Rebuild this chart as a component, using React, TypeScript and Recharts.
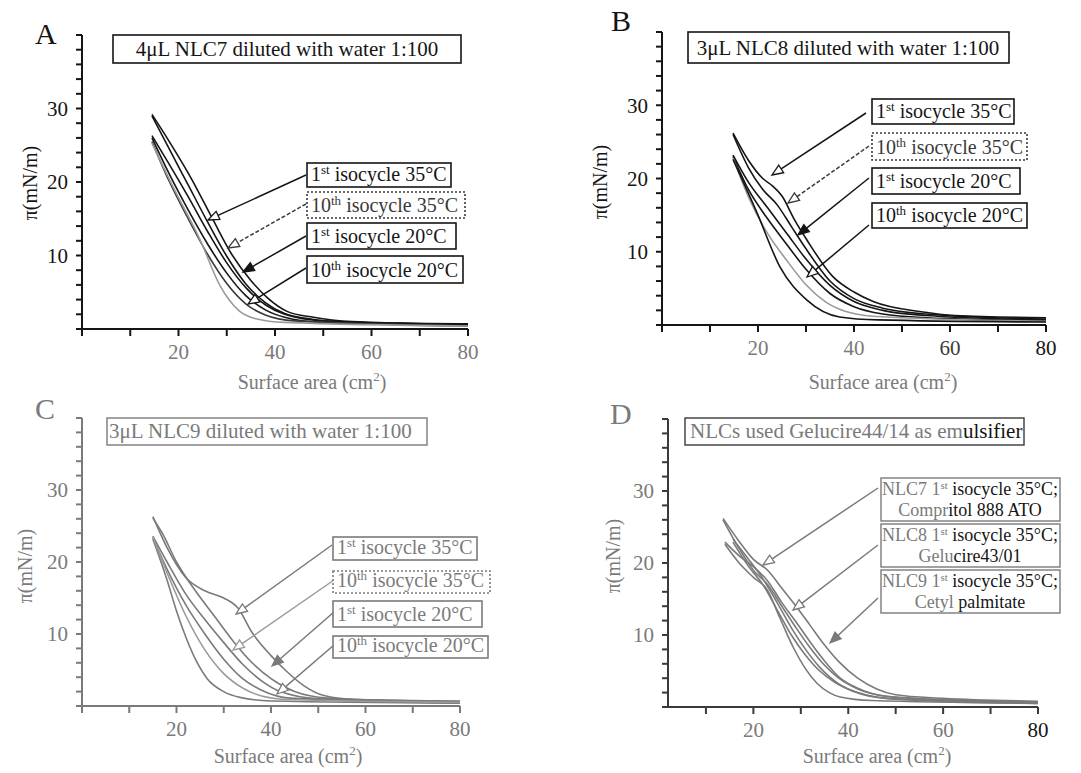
import { LineChart, Line, XAxis, YAxis } from 'recharts';

type Pt = { x: number; y: number };

const X_TICKS = [0, 10, 20, 30, 40, 50, 60, 70, 80];
const X_TICKS_D = [10, 20, 30, 40, 50, 60, 70, 80];
const X_LABELS = [20, 40, 60, 80];
const Y_TICKS = [0, 2, 4, 6, 8, 10, 12, 14, 16, 18, 20, 22, 24, 26, 28, 30, 32, 34, 36, 38, 40];
const Y_LABELS = [10, 20, 30];

// A: 4uL NLC7
const A1: Pt[] = [{ x: 14.5, y: 29.2 }, { x: 18, y: 25.6 }, { x: 22.8, y: 20.3 }, { x: 27.2, y: 14.8 }, { x: 31, y: 10.2 }, { x: 35, y: 6.6 }, { x: 38.5, y: 4.2 }, { x: 42.5, y: 2.4 }, { x: 48, y: 1.6 }, { x: 56, y: 1.0 }, { x: 66, y: 0.8 }, { x: 80, y: 0.7 }];
const A2: Pt[] = [{ x: 14.5, y: 29.0 }, { x: 18, y: 24.6 }, { x: 22, y: 19.6 }, { x: 26, y: 14.6 }, { x: 30, y: 9.9 }, { x: 34, y: 6.1 }, { x: 38, y: 3.6 }, { x: 42, y: 2.1 }, { x: 48, y: 1.3 }, { x: 56, y: 0.9 }, { x: 80, y: 0.6 }];
const A3: Pt[] = [{ x: 14.5, y: 26.3 }, { x: 18, y: 22.5 }, { x: 22, y: 18 }, { x: 26, y: 13.3 }, { x: 30, y: 9 }, { x: 34, y: 5.6 }, { x: 38, y: 3.3 }, { x: 42, y: 2 }, { x: 50, y: 1.1 }, { x: 80, y: 0.6 }];
const A4: Pt[] = [{ x: 14.5, y: 26 }, { x: 18, y: 21.2 }, { x: 22, y: 16.2 }, { x: 26, y: 11.6 }, { x: 30, y: 7.6 }, { x: 34, y: 4.5 }, { x: 38, y: 2.6 }, { x: 42, y: 1.6 }, { x: 50, y: 0.9 }, { x: 80, y: 0.5 }];
const A5: Pt[] = [{ x: 14.5, y: 25.5 }, { x: 18, y: 20.2 }, { x: 22, y: 15 }, { x: 26, y: 10.2 }, { x: 30, y: 6.2 }, { x: 34, y: 3.4 }, { x: 38, y: 1.9 }, { x: 44, y: 1.1 }, { x: 80, y: 0.4 }];
const A6: Pt[] = [{ x: 14.5, y: 25.3 }, { x: 18.9, y: 19.3 }, { x: 24.5, y: 12.1 }, { x: 28.6, y: 5.9 }, { x: 32.7, y: 2.4 }, { x: 36, y: 1.4 }, { x: 42, y: 0.9 }, { x: 80, y: 0.4 }];

// B: 3uL NLC8
const B1: Pt[] = [{ x: 14.8, y: 26.2 }, { x: 18, y: 22.5 }, { x: 21, y: 20 }, { x: 23, y: 19 }, { x: 25, y: 17.6 }, { x: 27.5, y: 14.5 }, { x: 30.2, y: 11.6 }, { x: 35.6, y: 6.6 }, { x: 40, y: 4.5 }, { x: 44, y: 3.2 }, { x: 54, y: 1.8 }, { x: 61, y: 1.3 }, { x: 80, y: 1.0 }];
const B2: Pt[] = [{ x: 14.8, y: 26.0 }, { x: 18, y: 21.5 }, { x: 21, y: 18.5 }, { x: 24, y: 16.4 }, { x: 27, y: 13.4 }, { x: 30, y: 10.4 }, { x: 35, y: 6 }, { x: 40, y: 3.6 }, { x: 46, y: 2.3 }, { x: 55, y: 1.5 }, { x: 80, y: 0.8 }];
const B3: Pt[] = [{ x: 14.8, y: 23.2 }, { x: 18, y: 19.5 }, { x: 22, y: 16 }, { x: 26, y: 12.5 }, { x: 30, y: 9 }, { x: 35, y: 5.4 }, { x: 40, y: 3.2 }, { x: 46, y: 2 }, { x: 55, y: 1.3 }, { x: 80, y: 0.7 }];
const B4: Pt[] = [{ x: 14.8, y: 23 }, { x: 18, y: 18.5 }, { x: 22, y: 14.5 }, { x: 26, y: 11 }, { x: 30, y: 7.6 }, { x: 35, y: 4.3 }, { x: 40, y: 2.5 }, { x: 46, y: 1.5 }, { x: 55, y: 1.0 }, { x: 80, y: 0.6 }];
const B5: Pt[] = [{ x: 14.8, y: 22.8 }, { x: 18, y: 17.5 }, { x: 22, y: 12.5 }, { x: 26, y: 8.8 }, { x: 30, y: 5.5 }, { x: 34, y: 3.2 }, { x: 38, y: 1.9 }, { x: 44, y: 1.2 }, { x: 80, y: 0.5 }];
const B6: Pt[] = [{ x: 14.8, y: 22.6 }, { x: 19.8, y: 15.3 }, { x: 24.6, y: 7.9 }, { x: 30.2, y: 3.4 }, { x: 37, y: 1.1 }, { x: 45, y: 0.7 }, { x: 80, y: 0.4 }];

// C: 3uL NLC9
const C1: Pt[] = [{ x: 15, y: 26.3 }, { x: 18, y: 22 }, { x: 22, y: 17.8 }, { x: 26, y: 16 }, { x: 30, y: 15 }, { x: 33, y: 13.6 }, { x: 36, y: 10.2 }, { x: 40, y: 7 }, { x: 43, y: 5 }, { x: 47, y: 2.8 }, { x: 51, y: 1.5 }, { x: 58, y: 0.9 }, { x: 80, y: 0.7 }];
const C2: Pt[] = [{ x: 15, y: 26.1 }, { x: 17, y: 24 }, { x: 20, y: 20 }, { x: 24, y: 16 }, { x: 28, y: 12.5 }, { x: 32, y: 9 }, { x: 36, y: 6 }, { x: 40, y: 3.8 }, { x: 45, y: 2 }, { x: 52, y: 1.1 }, { x: 80, y: 0.6 }];
const C3: Pt[] = [{ x: 15, y: 23.6 }, { x: 18, y: 20 }, { x: 22, y: 15.5 }, { x: 26, y: 12 }, { x: 30, y: 8.8 }, { x: 34, y: 5.8 }, { x: 38, y: 3.5 }, { x: 42, y: 2 }, { x: 50, y: 1 }, { x: 80, y: 0.5 }];
const C4: Pt[] = [{ x: 15, y: 23.4 }, { x: 18, y: 19 }, { x: 22, y: 14 }, { x: 26, y: 10 }, { x: 30, y: 6.5 }, { x: 34, y: 3.8 }, { x: 38, y: 2.2 }, { x: 44, y: 1.1 }, { x: 80, y: 0.4 }];
const C5: Pt[] = [{ x: 15, y: 23.2 }, { x: 18, y: 17.5 }, { x: 20, y: 13.2 }, { x: 22.2, y: 9.2 }, { x: 24, y: 6.5 }, { x: 26.5, y: 3.8 }, { x: 30, y: 2.0 }, { x: 33.4, y: 1.2 }, { x: 40, y: 0.7 }, { x: 80, y: 0.4 }];
const C6: Pt[] = [{ x: 15, y: 23.5 }, { x: 18, y: 18.5 }, { x: 22, y: 12.5 }, { x: 26, y: 7.8 }, { x: 30, y: 4.5 }, { x: 34, y: 2.5 }, { x: 38, y: 1.4 }, { x: 44, y: 0.9 }, { x: 80, y: 0.5 }];

// D: NLC7 / NLC8 / NLC9, 1st isocycle 35°C
const D1: Pt[] = [{ x: 13.6, y: 26.2 }, { x: 17, y: 23 }, { x: 20, y: 20.5 }, { x: 23, y: 19 }, { x: 26, y: 16.5 }, { x: 29, y: 14 }, { x: 32, y: 11.3 }, { x: 35, y: 8.6 }, { x: 38, y: 6.3 }, { x: 42, y: 4 }, { x: 46, y: 2.5 }, { x: 50, y: 1.7 }, { x: 60, y: 1.2 }, { x: 80, y: 0.8 }];
const D2: Pt[] = [{ x: 13.6, y: 26 }, { x: 17, y: 22 }, { x: 20, y: 19 }, { x: 23, y: 17 }, { x: 26, y: 14 }, { x: 29, y: 11 }, { x: 32, y: 8.2 }, { x: 35, y: 5.8 }, { x: 38, y: 4 }, { x: 42, y: 2.5 }, { x: 48, y: 1.5 }, { x: 60, y: 1 }, { x: 80, y: 0.7 }];
const D3: Pt[] = [{ x: 14, y: 22.9 }, { x: 17, y: 21 }, { x: 20, y: 19.5 }, { x: 23, y: 17.5 }, { x: 26, y: 14.5 }, { x: 29, y: 11.8 }, { x: 32, y: 9 }, { x: 35, y: 6.4 }, { x: 38, y: 4.2 }, { x: 42, y: 2.6 }, { x: 48, y: 1.5 }, { x: 80, y: 0.6 }];
const D4: Pt[] = [{ x: 15.7, y: 22.9 }, { x: 19, y: 19.5 }, { x: 22, y: 17 }, { x: 25, y: 13.5 }, { x: 28, y: 10 }, { x: 31, y: 7.2 }, { x: 34, y: 5 }, { x: 37, y: 3.5 }, { x: 41, y: 2.2 }, { x: 48, y: 1.2 }, { x: 80, y: 0.5 }];
const D5: Pt[] = [{ x: 14, y: 22.6 }, { x: 17, y: 20 }, { x: 20, y: 18 }, { x: 22.9, y: 16.3 }, { x: 25.5, y: 12.5 }, { x: 28.4, y: 8.3 }, { x: 31, y: 5.3 }, { x: 33.4, y: 3.3 }, { x: 36, y: 2 }, { x: 38.3, y: 1.4 }, { x: 45, y: 0.9 }, { x: 80, y: 0.5 }];
const D6: Pt[] = [{ x: 15.7, y: 23.3 }, { x: 19, y: 20.5 }, { x: 22, y: 17.8 }, { x: 25, y: 14.5 }, { x: 28, y: 11 }, { x: 31, y: 8 }, { x: 34, y: 5.5 }, { x: 38, y: 3.2 }, { x: 42, y: 2 }, { x: 50, y: 1.1 }, { x: 80, y: 0.6 }];

const SERIF = '"Liberation Serif", "Times New Roman", serif';
const F = { fontFamily: SERIF };

const BLACK = '#151515';
const DARK = '#3a3a3a';
const GREY = '#7a7a7a';
const LIGHT = '#9a9a9a';

type Curve = { data: Pt[]; color: string };

// tick label renderer: only labelled values get text, colour per value
function tickRenderer(labels: number[], colorOf: (v: number) => string, axis: 'x' | 'y') {
  return (p: any) => {
    const v = p.payload?.value;
    if (!labels.includes(v)) return <g />;
    return (
      <text
        x={p.x}
        y={p.y}
        dy={axis === 'x' ? '0.71em' : '0.355em'}
        textAnchor={axis === 'x' ? 'middle' : 'end'}
        fontSize={21}
        fill={colorOf(v)}
        style={F}
      >
        {v}
      </text>
    );
  };
}

function Panel(props: {
  left: number; top: number; width: number; height: number;
  margin: { top: number; right: number; bottom: number; left: number };
  curves: Curve[]; xDomain: [number, number]; xTicks: number[];
  axisColor: string; xTickColor: (v: number) => string; yTickColor: string;
}) {
  const { left, top, width, height, margin, curves, xDomain, xTicks, axisColor, xTickColor, yTickColor } = props;
  return (
    <div style={{ position: 'absolute', left, top }}>
      <LineChart width={width} height={height} margin={margin}>
        <XAxis
          type="number"
          dataKey="x"
          domain={xDomain}
          ticks={xTicks}
          interval={0}
          allowDuplicatedCategory={false}
          height={30}
          stroke={axisColor}
          strokeWidth={2}
          tickSize={7}
          tickMargin={8}
          tick={tickRenderer(X_LABELS, xTickColor, 'x')}
        />
        <YAxis
          type="number"
          domain={[0, 40]}
          ticks={Y_TICKS}
          interval={0}
          width={40}
          stroke={axisColor}
          strokeWidth={2}
          tickSize={6}
          tickMargin={8}
          tick={tickRenderer(Y_LABELS, () => yTickColor, 'y')}
        />
        {curves.map((c, i) => (
          <Line
            key={i}
            data={c.data}
            dataKey="y"
            type="monotone"
            stroke={c.color}
            strokeWidth={1.6}
            dot={false}
            activeDot={false}
            isAnimationActive={false}
          />
        ))}
      </LineChart>
    </div>
  );
}

function Iso(props: { x: number; y: number; w: number; h: number; n: string; s: string; rest: string; color: string; dotted?: boolean }) {
  const { x, y, w, h, n, s, rest, color, dotted } = props;
  return (
    <g>
      <rect x={x} y={y} width={w} height={h} fill="white" stroke={color} strokeWidth={1.6} strokeDasharray={dotted ? '2 2' : undefined} />
      <text x={x + 4} y={y + h - 6} fontSize={20} style={F} fill={color}>
        <tspan>{n}</tspan>
        <tspan fontSize={13} dy={-7}>{s}</tspan>
        <tspan dy={7}>{rest}</tspan>
      </text>
    </g>
  );
}

function Arrow(props: { x1: number; y1: number; x2: number; y2: number; color: string; head: 'open' | 'filled'; dashed?: boolean }) {
  const { x1, y1, x2, y2, color, head, dashed } = props;
  const a = Math.atan2(y2 - y1, x2 - x1);
  const L = 11, W = 4.5;
  const bx = x2 - L * Math.cos(a), by = y2 - L * Math.sin(a);
  const p1 = `${bx + W * Math.sin(a)},${by - W * Math.cos(a)}`;
  const p2 = `${bx - W * Math.sin(a)},${by + W * Math.cos(a)}`;
  return (
    <g>
      <line x1={x1} y1={y1} x2={bx} y2={by} stroke={color} strokeWidth={1.5} strokeDasharray={dashed ? '4 2' : undefined} />
      <polygon points={`${x2},${y2} ${p1} ${p2}`} fill={head === 'filled' ? color : 'white'} stroke={color} strokeWidth={1.3} />
    </g>
  );
}

function YTitle(props: { x: number; y: number; color: string }) {
  return (
    <text x={props.x} y={props.y} transform={`rotate(-90 ${props.x} ${props.y})`} textAnchor="middle" dominantBaseline="central" fontSize={20} style={F} fill={props.color}>
      π(mN/m)
    </text>
  );
}

function XTitle(props: { x: number; y: number; color: string }) {
  return (
    <text x={props.x} y={props.y} textAnchor="middle" fontSize={20} style={F} fill={props.color}>
      <tspan>Surface area (cm</tspan>
      <tspan fontSize={13} dy={-8}>2</tspan>
      <tspan dy={8}>)</tspan>
    </text>
  );
}

export default function App() {
  return (
    <div style={{ position: 'absolute', left: 0, top: 0, width: 1081, height: 773, background: 'white', overflow: 'hidden' }}>
      <Panel left={0} top={0} width={540} height={390} margin={{ top: 35, right: 72, bottom: 31, left: 42 }}
        xDomain={[0, 80]} xTicks={X_TICKS} axisColor={BLACK} xTickColor={() => GREY} yTickColor={BLACK}
        curves={[{ data: A1, color: BLACK }, { data: A2, color: BLACK }, { data: A3, color: BLACK }, { data: A4, color: BLACK }, { data: A5, color: DARK }, { data: A6, color: LIGHT }]} />
      <Panel left={540} top={0} width={541} height={390} margin={{ top: 32, right: 35, bottom: 35, left: 82 }}
        xDomain={[0, 80]} xTicks={X_TICKS} axisColor={BLACK} xTickColor={(v) => (v === 80 ? BLACK : v === 60 ? DARK : GREY)} yTickColor={BLACK}
        curves={[{ data: B1, color: BLACK }, { data: B2, color: BLACK }, { data: B3, color: BLACK }, { data: B4, color: BLACK }, { data: B5, color: LIGHT }, { data: B6, color: BLACK }]} />
      <Panel left={0} top={390} width={540} height={383} margin={{ top: 28, right: 80, bottom: 37, left: 42 }}
        xDomain={[0, 80]} xTicks={X_TICKS} axisColor={GREY} xTickColor={() => GREY} yTickColor={GREY}
        curves={[{ data: C1, color: GREY }, { data: C2, color: GREY }, { data: C3, color: GREY }, { data: C4, color: GREY }, { data: C5, color: GREY }, { data: C6, color: LIGHT }]} />
      <Panel left={540} top={390} width={541} height={383} margin={{ top: 29, right: 43, bottom: 36, left: 88 }}
        xDomain={[2, 80]} xTicks={X_TICKS_D} axisColor={DARK} xTickColor={(v) => (v === 80 ? BLACK : GREY)} yTickColor={GREY}
        curves={[{ data: D1, color: GREY }, { data: D2, color: GREY }, { data: D3, color: GREY }, { data: D4, color: GREY }, { data: D5, color: GREY }, { data: D6, color: GREY }]} />

      <svg width={1081} height={773} style={{ position: 'absolute', left: 0, top: 0, pointerEvents: 'none' }}>
        {/* panel letters */}
        <text x={35} y={44} fontSize={30} style={F} fill={BLACK}>A</text>
        <text x={611} y={31} fontSize={30} style={F} fill={BLACK}>B</text>
        <text x={35} y={419} fontSize={30} style={F} fill={GREY}>C</text>
        <text x={610} y={424} fontSize={30} style={F} fill={GREY}>D</text>

        {/* axis titles */}
        <YTitle x={30} y={183} color={BLACK} />
        <YTitle x={600} y={182} color={BLACK} />
        <YTitle x={25} y={566} color={GREY} />
        <YTitle x={613} y={556} color={GREY} />
        <XTitle x={312} y={389} color={GREY} />
        <XTitle x={883} y={389} color={GREY} />
        <XTitle x={288} y={763} color={GREY} />
        <XTitle x={877} y={763} color={GREY} />

        {/* titles */}
        <rect x={113} y={35} width={348} height={28} fill="white" stroke={BLACK} strokeWidth={1.6} />
        <text x={287} y={56} textAnchor="middle" fontSize={21} style={F} fill={BLACK}>4μL NLC7 diluted with water 1:100</text>
        <rect x={688} y={32} width={321} height={31} fill="white" stroke={BLACK} strokeWidth={1.6} />
        <text x={848} y={55} textAnchor="middle" fontSize={21} style={F} fill={BLACK}>3μL NLC8 diluted with water 1:100</text>
        <rect x={107} y={418} width={320} height={27} fill="white" stroke={GREY} strokeWidth={1.4} />
        <text x={109} y={438} fontSize={21} style={F} fill={GREY}>3μL NLC9 diluted with water 1:100</text>
        <rect x={685} y={418} width={339} height={27} fill="white" stroke={DARK} strokeWidth={1.4} />
        <text x={690} y={438} fontSize={21} style={F} fill={GREY}>
          <tspan>NLCs used Gelucire44/14 as em</tspan>
          <tspan fill={BLACK}>ulsifier</tspan>
        </text>

        {/* A labels */}
        <Arrow x1={306} y1={175} x2={208} y2={220} color={BLACK} head="open" />
        <Arrow x1={306} y1={204} x2={228} y2={248} color={DARK} head="open" dashed />
        <Arrow x1={306} y1={236} x2={243} y2={272} color={BLACK} head="filled" />
        <Arrow x1={306} y1={268} x2={248} y2={304} color={BLACK} head="open" />
        <Iso x={307} y={163} w={144} h={24} n="1" s="st" rest=" isocycle 35°C" color={BLACK} />
        <Iso x={307} y={192} w={158} h={26} n="10" s="th" rest=" isocycle 35°C" color={DARK} dotted />
        <Iso x={307} y={223} w={149} h={26} n="1" s="st" rest=" isocycle 20°C" color={BLACK} />
        <Iso x={307} y={256} w={156} h={27} n="10" s="th" rest=" isocycle 20°C" color={BLACK} />

        {/* B labels */}
        <Arrow x1={866} y1={113} x2={772} y2={175} color={BLACK} head="open" />
        <Arrow x1={869} y1={146} x2={788} y2={203} color={DARK} head="open" dashed />
        <Arrow x1={869} y1={178} x2={798} y2={235} color={BLACK} head="filled" />
        <Arrow x1={869} y1={225} x2={807} y2={277} color={BLACK} head="open" />
        <Iso x={872} y={99} w={142} h={25} n="1" s="st" rest=" isocycle 35°C" color={BLACK} />
        <Iso x={872} y={133} w={155} h={27} n="10" s="th" rest=" isocycle 35°C" color={DARK} dotted />
        <Iso x={872} y={168} w={148} h={26} n="1" s="st" rest=" isocycle 20°C" color={BLACK} />
        <Iso x={872} y={203} w={155} h={25} n="10" s="th" rest=" isocycle 20°C" color={BLACK} />

        {/* C labels */}
        <Arrow x1={332} y1={545} x2={236} y2={614} color={GREY} head="open" />
        <Arrow x1={334} y1={580} x2={233} y2={650} color={LIGHT} head="open" />
        <Arrow x1={334} y1={612} x2={272} y2={666} color={GREY} head="filled" />
        <Arrow x1={334} y1={645} x2={277} y2={694} color={GREY} head="open" />
        <Iso x={333} y={537} w={144} h={23} n="1" s="st" rest=" isocycle 35°C" color={GREY} />
        <Iso x={333} y={571} w={157} h={22} n="10" s="th" rest=" isocycle 35°C" color={GREY} dotted />
        <Iso x={333} y={601} w={149} h={26} n="1" s="st" rest=" isocycle 20°C" color={GREY} />
        <Iso x={333} y={636} w={155} h={22} n="10" s="th" rest=" isocycle 20°C" color={GREY} />

        {/* D labels */}
        <Arrow x1={878} y1={488} x2={763} y2={565} color={GREY} head="open" />
        <Arrow x1={878} y1={545} x2={793} y2={610} color={GREY} head="open" />
        <Arrow x1={878} y1={598} x2={830} y2={643} color={GREY} head="filled" />
        {[
          { y: 478, l1a: 'NLC7 1', l1b: ' isocycle 35°C;', l2a: 'Compr', l2b: 'itol 888 ATO' },
          { y: 524, l1a: 'NLC8 1', l1b: ' isocycle 35°C;', l2a: 'Gelu', l2b: 'cire43/01' },
          { y: 570, l1a: 'NLC9 1', l1b: ' isocycle 35°C;', l2a: 'Cetyl ', l2b: 'palmitate' },
        ].map((b, i) => (
          <g key={i}>
            <rect x={881} y={b.y} width={179} height={43} fill="white" stroke={GREY} strokeWidth={1.4} />
            <text x={970} y={b.y + 17} textAnchor="middle" fontSize={18} style={F} fill={GREY}>
              <tspan>{b.l1a}</tspan>
              <tspan fontSize={11} dy={-6}>st</tspan>
              <tspan dy={6} fill={BLACK}>{b.l1b}</tspan>
            </text>
            <text x={970} y={b.y + 38} textAnchor="middle" fontSize={18} style={F} fill={GREY}>
              <tspan>{b.l2a}</tspan>
              <tspan fill={BLACK}>{b.l2b}</tspan>
            </text>
          </g>
        ))}
      </svg>
    </div>
  );
}
